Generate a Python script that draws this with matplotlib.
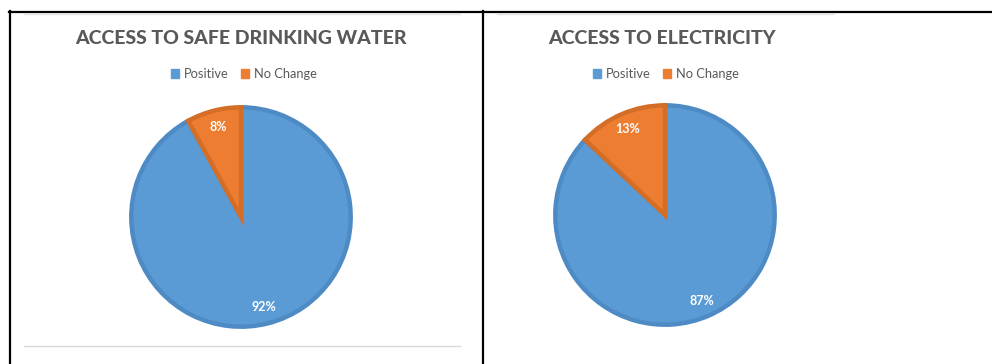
import matplotlib.pyplot as plt
from matplotlib.lines import Line2D
from matplotlib.patches import Patch

W, H = 992, 364

labels = ['Positive', 'No Change']
water = [92, 8]
electricity = [87, 13]
titles = ['ACCESS TO SAFE DRINKING WATER', 'ACCESS TO ELECTRICITY']

colors = ['#5B9BD5', '#ED7D31']
edges = ['#4E8BC4', '#D46D26']
text_grey = '#595959'

plt.rcParams['font.family'] = ['Lato', 'DejaVu Sans']

fig = plt.figure(figsize=(W / 100, H / 100), dpi=100)


def px(x, y):
    # pixel position (from top-left) -> figure fraction
    return x / W, 1 - y / H


def hline(x0, x1, y, color, lw):
    (a, b), (c, d) = px(x0, y), px(x1, y)
    fig.add_artist(Line2D([a, c], [b, d], color=color, lw=lw, transform=fig.transFigure))


def vline(x, y0, y1, color, lw):
    (a, b), (c, d) = px(x, y0), px(x, y1)
    fig.add_artist(Line2D([a, c], [b, d], color=color, lw=lw, transform=fig.transFigure))


# table borders
hline(9, W, 12, 'black', 1.6)
vline(10, 11, H, 'black', 1.6)
vline(483, 11, H, 'black', 1.6)
# chart area outlines
hline(24, 460, 14, '#E3E3E3', 1.0)
hline(497, 833, 14, '#E3E3E3', 1.0)
hline(24, 460, 346, '#D9D9D9', 1.0)


def draw_pie(values, title, cx, cy, r, tx, lx):
    x0, y0 = px(cx - r, cy + r)
    ax = fig.add_axes([x0, y0, 2 * r / W, 2 * r / H])
    wedges, _, autotexts = ax.pie(values, colors=colors, startangle=90, counterclock=False,
                                  autopct='%d%%', pctdistance=0.85, radius=1.0,
                                  wedgeprops=dict(linewidth=3.2))
    for w, ec in zip(wedges, edges):
        w.set_edgecolor(ec)
    for t in autotexts:
        t.set_color('white')
        t.set_fontsize(9)
        t.set_fontweight('bold')
    ax.set_xlim(-1.03, 1.03)
    ax.set_ylim(-1.03, 1.03)
    ax.set_aspect('equal')
    ax.axis('off')

    fx, fy = px(tx, 39)
    fig.text(fx, fy, title, ha='center', va='center', fontsize=14,
             fontweight='black', color=text_grey)

    handles = [Patch(facecolor=c, edgecolor=c) for c in colors]
    lx_, ly_ = px(lx, 74)
    fig.legend(handles, labels, loc='center', bbox_to_anchor=(lx_, ly_), ncol=2,
               frameon=False, fontsize=9.3, labelcolor=text_grey, handlelength=0.6,
               handleheight=0.6, handletextpad=0.35, columnspacing=1.0)


draw_pie(water, titles[0], 241, 217, 113, 241, 244)
draw_pie(electricity, titles[1], 665, 215, 113, 662, 666)

fig.savefig('out.png', dpi=100, facecolor='white')
